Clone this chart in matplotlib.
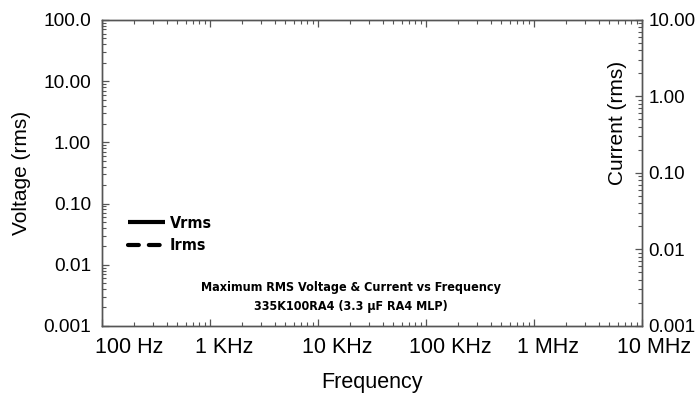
"""
Maximum RMS voltage & current vs frequency (empty template chart)
"""
import matplotlib
matplotlib.use("Agg")
import matplotlib.pyplot as plt
from matplotlib.ticker import FixedLocator, LogLocator, NullFormatter
from matplotlib.transforms import ScaledTranslation

# no curves are drawn in the reference, only the legend entries
freq = []
vrms = []
irms = []

freq_ticks = [1e2, 1e3, 1e4, 1e5, 1e6, 1e7]
freq_labels = ["100 Hz", "1 KHz", "10 KHz", "100 KHz", "1 MHz", "10 MHz"]
# the original labels sit a bit right of their ticks (pixels)
freq_label_shift = [27, 14.5, 19, 25, 14.5, 12.5]
volt_ticks = [0.001, 0.01, 0.1, 1, 10, 100]
volt_labels = ["0.001", "0.01", "0.10", "1.00", "10.00", "100.0"]
curr_ticks = [0.001, 0.01, 0.1, 1, 10]
curr_labels = ["0.001", "0.01", "0.10", "1.00", "10.00"]

plt.rcParams["font.family"] = ["Liberation Sans", "DejaVu Sans"]
spine_col = "#555555"

fig = plt.figure(figsize=(7, 3.96), dpi=100)
ax = fig.add_axes([0.1457, 0.177, 0.771, 0.7725])
ax2 = ax.twinx()

l1, = ax.plot(freq, vrms, color="black", lw=3, solid_capstyle="butt")
l2, = ax2.plot(freq, irms, color="black", lw=3, ls=(0, (2.6, 2.4)),
               dash_capstyle="round")

ax.set_xscale("log")
ax.set_yscale("log")
ax2.set_yscale("log")
ax.set_xlim(1e2, 1e7)
ax.set_ylim(0.001, 100)
ax2.set_ylim(0.001, 10)

ax.xaxis.set_major_locator(FixedLocator(freq_ticks))
ax.set_xticklabels(freq_labels)
ax.yaxis.set_major_locator(FixedLocator(volt_ticks))
ax.set_yticklabels(volt_labels)
ax2.yaxis.set_major_locator(FixedLocator(curr_ticks))
ax2.set_yticklabels(curr_labels)
for a in (ax.xaxis, ax.yaxis, ax2.yaxis):
    a.set_minor_locator(LogLocator(base=10, subs=range(2, 10), numticks=20))
    a.set_minor_formatter(NullFormatter())

ax.tick_params(axis="x", which="both", direction="in", top=True, bottom=True,
               labelsize=15.5, pad=8, color=spine_col)
ax.tick_params(axis="y", which="both", direction="in", right=False,
               labelsize=13.8, pad=8, color=spine_col)
ax2.tick_params(axis="y", which="both", direction="in", labelsize=13.5, pad=5,
                color=spine_col)
for a in (ax, ax2):
    a.tick_params(which="major", length=5, width=0.9)
    a.tick_params(which="minor", length=3, width=0.8)
    for s in a.spines.values():
        s.set_color(spine_col)
        s.set_linewidth(1.0)

for lbl, dx in zip(ax.get_xticklabels(), freq_label_shift):
    lbl.set_transform(lbl.get_transform()
                      + ScaledTranslation(dx / 100, 0, fig.dpi_scale_trans))

ax.set_xlabel("Frequency", fontsize=15.5, labelpad=10)
ax.set_ylabel("Voltage (rms)", fontsize=15, labelpad=9)
ax.text(0.9556, 0.663, "Current (rms)", transform=ax.transAxes, rotation=90,
        ha="center", va="center", fontsize=15)

bold = dict(family="DejaVu Sans", stretch="condensed", weight="bold")
ax.text(0.462, 0.124, "Maximum RMS Voltage & Current vs Frequency",
        transform=ax.transAxes, ha="center", va="center", fontsize=9, **bold)
ax.text(0.462, 0.065, "335K100RA4 (3.3 \u00b5F RA4 MLP)",
        transform=ax.transAxes, ha="center", va="center", fontsize=9, **bold)

ax.legend([l1, l2], ["Vrms", "Irms"], loc="upper left",
          bbox_to_anchor=(0.037, 0.38), frameon=False, handlelength=2.3,
          handletextpad=0.3, labelspacing=0.45, borderaxespad=0,
          prop=dict(family="DejaVu Sans", stretch="condensed",
                    weight="bold", size=11.5))

fig.savefig("out.png", dpi=100)
